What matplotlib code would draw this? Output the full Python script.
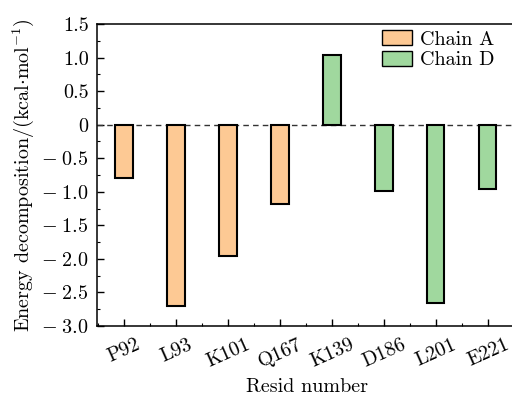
import matplotlib
matplotlib.use("Agg")
import matplotlib.pyplot as plt
import numpy as np
from matplotlib.patches import Patch
from matplotlib.ticker import FixedLocator, MultipleLocator, FuncFormatter

plt.rcParams['font.family'] = 'serif'
plt.rcParams['font.serif'] = ['cmr10']
plt.rcParams['mathtext.fontset'] = 'cm'
plt.rcParams['axes.unicode_minus'] = False

residues = ['P92', 'L93', 'K101', 'Q167', 'K139', 'D186', 'L201', 'E221']
energy = [-0.80, -2.70, -1.96, -1.18, 1.04, -0.99, -2.65, -0.96]
chain = ['A', 'A', 'A', 'A', 'D', 'D', 'D', 'D']

colA = '#FDC994'
colD = '#A0D89E'
fs = 14.5


def main():
    fig = plt.figure(figsize=(5.12, 3.95), dpi=100)
    # right side of the axes runs off the picture, as in the original
    ax = fig.add_axes([97 / 512, 1 - 326 / 395, 420 / 512, 302 / 395])

    x = np.arange(len(residues))
    colors = [colA if c == 'A' else colD for c in chain]
    ax.bar(x, energy, width=0.33, color=colors, edgecolor='black', linewidth=1.5, zorder=3)
    ax.axhline(0, color='#333333', linestyle=(0, (4, 3)), linewidth=1.0, zorder=2)

    ax.set_xlim(-0.52, 7.56)
    ax.set_ylim(-3.0, 1.5)

    ax.xaxis.set_major_locator(FixedLocator(x))
    ax.set_xticklabels(residues, rotation=24)
    ax.xaxis.set_minor_locator(MultipleLocator(0.5))
    ax.yaxis.set_major_locator(MultipleLocator(0.5))
    ax.yaxis.set_minor_locator(MultipleLocator(0.25))

    def fmt(v, pos):
        if abs(v) < 1e-9:
            return '0'
        if v < 0:
            return r'$-\;$%.1f' % abs(v)
        return '%.1f' % v
    ax.yaxis.set_major_formatter(FuncFormatter(fmt))

    ax.tick_params(axis='both', which='major', direction='in', length=5, width=1.0, labelsize=fs)
    ax.tick_params(axis='x', which='major', pad=7)
    ax.tick_params(axis='y', which='major', pad=6)
    ax.tick_params(axis='both', which='minor', direction='in', length=2.5, width=0.8)
    ax.tick_params(top=False, right=False, which='both')
    for s in ax.spines.values():
        s.set_linewidth(1.1)

    ax.set_xlabel('Resid number', fontsize=fs, labelpad=5)
    ax.set_ylabel(r'Energy decomposition/(kcal$\cdot$mol$^{-1}$)', fontsize=fs, labelpad=4)

    handles = [Patch(facecolor=colA, edgecolor='black', linewidth=1.0, label='Chain A'),
               Patch(facecolor=colD, edgecolor='black', linewidth=1.0, label='Chain D')]
    fig.legend(handles=handles, loc='upper left', bbox_to_anchor=(382 / 512, 1 - 30 / 395),
               frameon=False, fontsize=fs, handlelength=1.5, handleheight=0.8,
               labelspacing=0.1, handletextpad=0.4, borderaxespad=0, borderpad=0)

    fig.savefig('out.png', dpi=100)


if __name__ == "__main__":
    main()
